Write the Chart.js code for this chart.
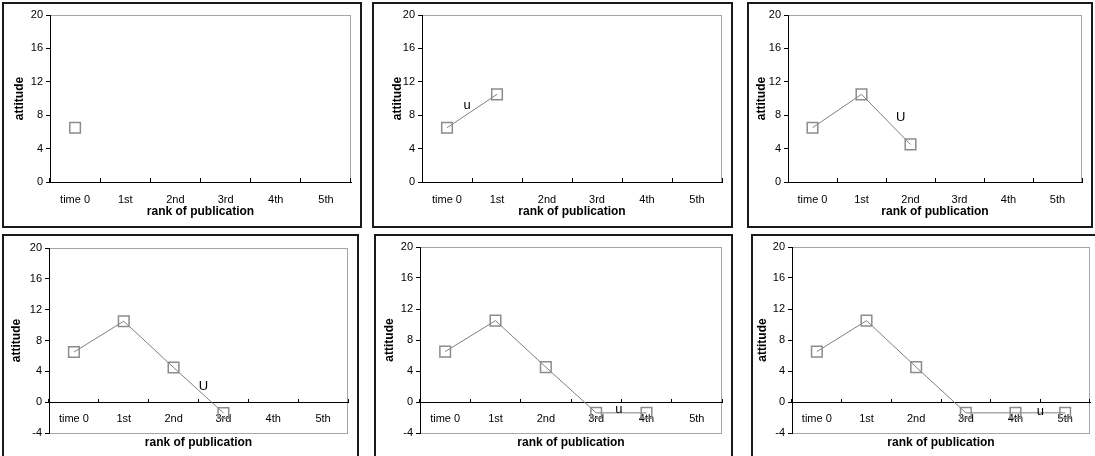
<!DOCTYPE html>
<html>
<head>
<meta charset="utf-8">
<script src="https://cdn.jsdelivr.net/npm/chart.js@4.4.0/dist/chart.umd.min.js"></script>
<style>
    html, body { margin: 0; padding: 0; background: #fff; }
    body { width: 1095px; height: 456px; position: relative; overflow: hidden; }
    .panel { position: absolute; box-sizing: border-box; border: 2px solid #1a1a1a; background: #fff; }
    .panel canvas { display: block; }
</style>
</head>
<body>
<script>
// 数据
const categories = ['time 0', '1st', '2nd', '3rd', '4th', '5th'];
const attitude = [6.5, 10.5, 4.5, -1.4, -1.4, -1.4];
const pointsShown = [1, 2, 3, 4, 5, 6];
const yMin = [0, 0, 0, -4, -4, -4];
const yMax = 20;
const yStep = 4;
const noteText = ['', 'u', 'U', 'U', 'u', 'u'];
const noteX = [null, 0.4, 1.8, 2.6, 3.45, 4.5];
const noteY = [null, 9.2, 7.7, 2.1, -1.0, -1.2];

// 面板布局 (页面坐标)
// titleGap: x轴线到 "rank of publication" 中心的距离
const panels = [
    { box: [2, 2, 360, 226],     plot: [50, 15, 352, 182],   yTitleX: 20,  titleGap: 30, labelGap: 15 },
    { box: [372, 2, 361, 226],   plot: [422, 15, 724, 182],  yTitleX: 398, titleGap: 30, labelGap: 15 },
    { box: [747, 2, 346, 226],   plot: [788, 15, 1090, 182], yTitleX: 762, titleGap: 30, labelGap: 15 },
    { box: [2, 234, 357, 228],   plot: [49, 248, 348, 433],  yTitleX: 17,  titleGap: 41, labelGap: 14 },
    { box: [374, 234, 359, 228], plot: [420, 247, 722, 433], yTitleX: 390, titleGap: 41, labelGap: 14 },
    { box: [751, 234, 350, 228], plot: [792, 247, 1093, 433], yTitleX: 763, titleGap: 41, labelGap: 14 }
];

Chart.defaults.font.family = '"Liberation Sans", Arial, sans-serif';
Chart.defaults.font.size = 11;
Chart.defaults.color = '#000';

// 绘图区灰色边框
const framePlugin = {
    id: 'frame',
    beforeDraw(chart) {
        const { ctx, chartArea: a } = chart;
        ctx.save();
        ctx.strokeStyle = '#a6a6a6';
        ctx.lineWidth = 1;
        ctx.strokeRect(Math.round(a.left) + 0.5, Math.round(a.top) + 0.5,
            Math.round(a.right - a.left) - 1, Math.round(a.bottom - a.top));
        ctx.restore();
    }
};

// 文字标注 u / U
const notePlugin = {
    id: 'note',
    afterDatasetsDraw(chart, args, opts) {
        if (!opts.text) return;
        const { ctx, scales } = chart;
        ctx.save();
        ctx.font = '13px "Liberation Sans", Arial, sans-serif';
        ctx.fillStyle = '#000';
        ctx.textAlign = 'center';
        ctx.textBaseline = 'middle';
        ctx.fillText(opts.text, scales.x.getPixelForValue(opts.x), scales.y.getPixelForValue(opts.y));
        ctx.restore();
    }
};

panels.forEach((p, i) => {
    const [bx, by, bw, bh] = p.box;
    const div = document.createElement('div');
    div.className = 'panel';
    div.style.left = bx + 'px';
    div.style.top = by + 'px';
    div.style.width = bw + 'px';
    div.style.height = bh + 'px';
    const canvas = document.createElement('canvas');
    const cw = bw - 4, ch = bh - 4, cx = bx + 2, cy = by + 2;
    canvas.width = cw;
    canvas.height = ch;
    div.appendChild(canvas);
    document.body.appendChild(div);

    const left = p.plot[0] - cx;
    const top = p.plot[1] - cy;
    const right = p.plot[2] - cx;
    const bottom = p.plot[3] - cy;
    const bottomRow = yMin[i] < 0;
    const titleLineH = 12 * 1.2;
    const xh = p.titleGap + titleLineH / 2;
    const padBottom = bottomRow ? ch - bottom : ch - (bottom + xh);

    new Chart(canvas, {
        type: 'line',
        data: {
            labels: categories,
            datasets: [{
                data: attitude.slice(0, pointsShown[i]),
                borderColor: '#7f7f7f',
                borderWidth: 1,
                tension: 0,
                pointStyle: 'rect',
                pointRadius: 7.5,
                pointBorderColor: '#8c8c8c',
                pointBorderWidth: 1.5,
                pointBackgroundColor: 'rgba(255,255,255,0)',
                clip: false
            }]
        },
        options: {
            responsive: false,
            animation: false,
            events: [],
            layout: { padding: { left: 0, right: cw - right, top: top, bottom: padBottom } },
            plugins: {
                legend: { display: false },
                tooltip: { enabled: false },
                note: { text: noteText[i], x: noteX[i], y: noteY[i] }
            },
            scales: {
                x: {
                    type: 'category',
                    offset: true,
                    position: bottomRow ? { y: 0 } : 'bottom',
                    grid: { offset: true, drawOnChartArea: false, drawTicks: true, tickLength: -4, color: '#000' },
                    border: { color: '#000', width: 1 },
                    ticks: { padding: p.labelGap, color: '#000', maxRotation: 0, autoSkip: false },
                    title: {
                        display: true,
                        text: 'rank of publication',
                        color: '#000',
                        font: { size: 12, weight: 'bold' },
                        padding: { top: 0, bottom: 0 }
                    },
                    afterFit: s => { s.height = xh; }
                },
                y: {
                    min: yMin[i],
                    max: yMax,
                    ticks: { stepSize: yStep, padding: 3, color: '#000' },
                    grid: { drawOnChartArea: false, tickLength: 4, color: '#000' },
                    border: { color: '#000', width: 1 },
                    title: {
                        display: true,
                        text: 'attitude',
                        color: '#000',
                        font: { size: 12, weight: 'bold' },
                        padding: { top: p.yTitleX - cx - titleLineH / 2, bottom: 0 }
                    },
                    afterFit: s => { s.width = left; }
                }
            }
        },
        plugins: [framePlugin, notePlugin]
    });
});
</script>
</body>
</html>
